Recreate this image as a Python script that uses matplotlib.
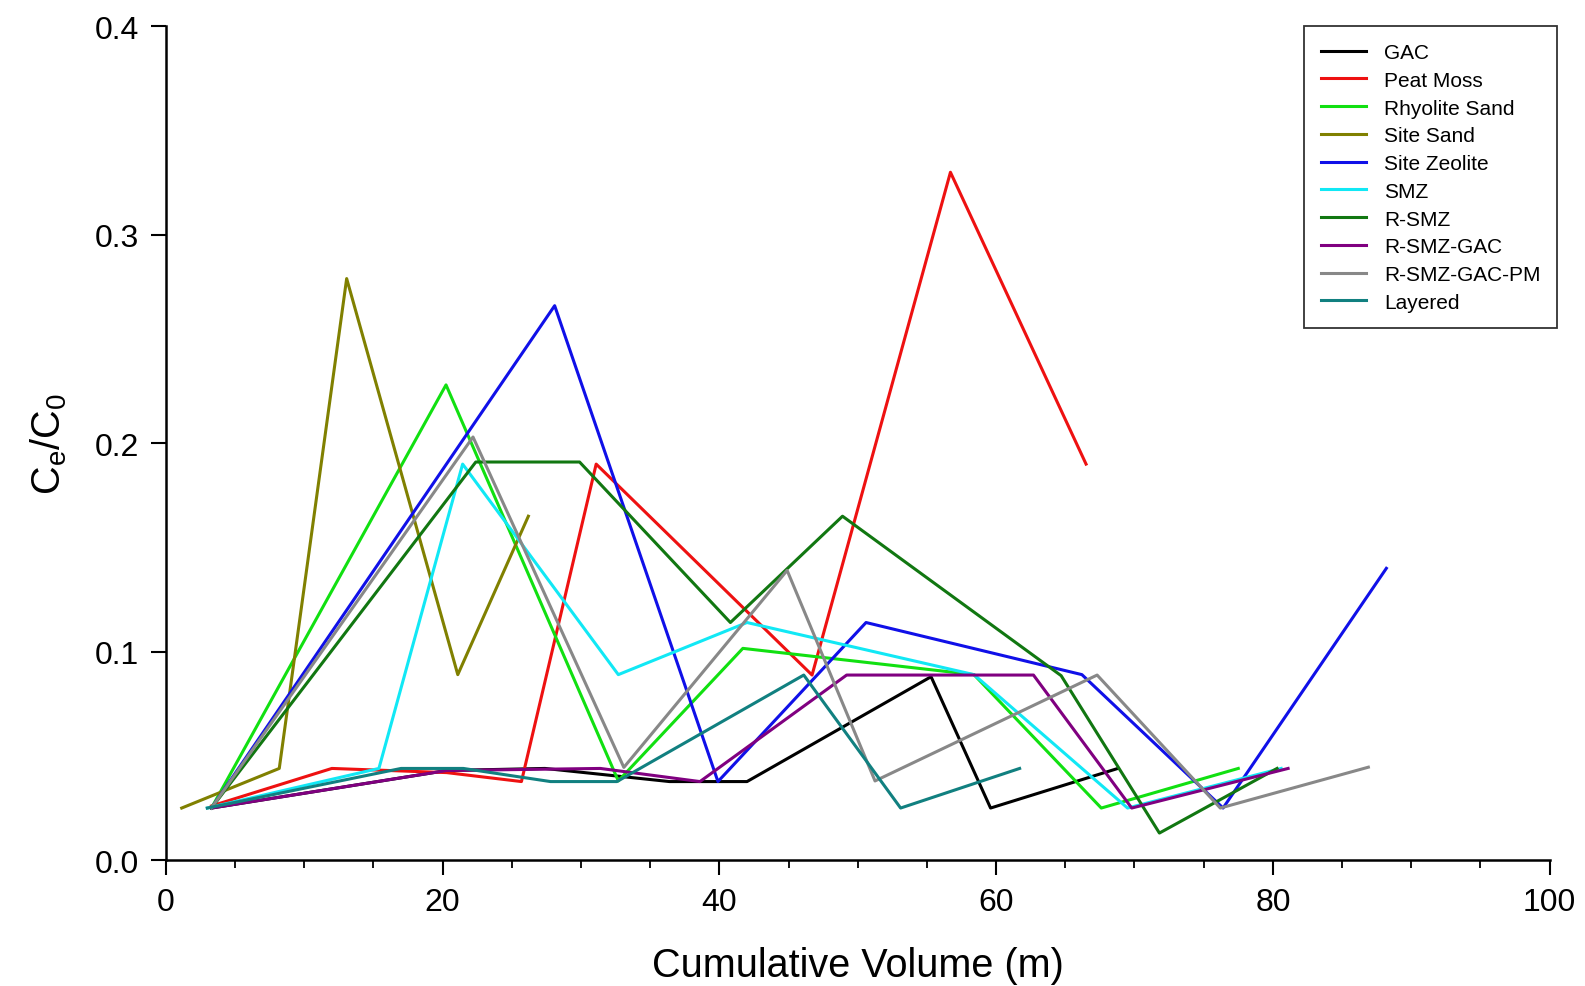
import matplotlib
matplotlib.use("Agg")
import matplotlib.pyplot as plt
from matplotlib.ticker import MultipleLocator, FormatStrFormatter

plt.rcParams['font.family'] = ['Liberation Sans', 'DejaVu Sans']

# ---------------- data ----------------
gac_x = [3.3, 20.3, 27.4, 36.4, 42.0, 55.3, 59.6, 68.8]
gac_y = [0.025, 0.043, 0.044, 0.0377, 0.0377, 0.088, 0.025, 0.044]

peat_x = [3.3, 12.0, 20.3, 25.7, 31.1, 46.7, 56.7, 66.5]
peat_y = [0.026, 0.044, 0.042, 0.0377, 0.190, 0.0888, 0.330, 0.190]

rhyo_x = [3.3, 20.25, 32.7, 41.7, 58.4, 67.6, 77.5]
rhyo_y = [0.025, 0.228, 0.038, 0.1016, 0.089, 0.025, 0.044]

sitesand_x = [1.15, 8.2, 13.07, 21.1, 26.2]
sitesand_y = [0.025, 0.044, 0.279, 0.089, 0.165]

zeol_x = [3.3, 28.1, 39.9, 50.6, 66.2, 76.4, 88.2]
zeol_y = [0.025, 0.266, 0.0377, 0.114, 0.089, 0.025, 0.140]

smz_x = [3.0, 15.4, 21.45, 32.7, 42.0, 58.4, 69.5, 80.6]
smz_y = [0.025, 0.044, 0.190, 0.089, 0.114, 0.089, 0.025, 0.044]

rsmz_x = [3.3, 22.4, 29.9, 40.8, 48.9, 64.7, 71.8, 80.3]
rsmz_y = [0.025, 0.191, 0.191, 0.114, 0.165, 0.0885, 0.013, 0.044]

rsmzgac_x = [3.3, 20.3, 31.4, 38.6, 49.2, 62.7, 69.8, 81.1]
rsmzgac_y = [0.025, 0.043, 0.044, 0.0377, 0.0888, 0.0888, 0.025, 0.044]

rsmzgacpm_x = [3.3, 22.2, 33.1, 44.9, 51.25, 67.3, 76.2, 86.9]
rsmzgacpm_y = [0.025, 0.203, 0.0445, 0.139, 0.038, 0.0888, 0.025, 0.0446]

layered_x = [3.0, 17.0, 21.5, 27.8, 32.6, 46.1, 53.1, 61.7]
layered_y = [0.025, 0.044, 0.044, 0.0377, 0.0377, 0.0888, 0.025, 0.044]

labels = ["GAC", "Peat Moss", "Rhyolite Sand", "Site Sand", "Site Zeolite",
          "SMZ", "R-SMZ", "R-SMZ-GAC", "R-SMZ-GAC-PM", "Layered"]
colors = ["#000000", "#ee1111", "#11e011", "#808000", "#1010e8",
          "#11e8f5", "#117711", "#800080", "#888888", "#118080"]
xs = [gac_x, peat_x, rhyo_x, sitesand_x, zeol_x, smz_x, rsmz_x, rsmzgac_x, rsmzgacpm_x, layered_x]
ys = [gac_y, peat_y, rhyo_y, sitesand_y, zeol_y, smz_y, rsmz_y, rsmzgac_y, rsmzgacpm_y, layered_y]

# ---------------- figure ----------------
fig = plt.figure(figsize=(15.85, 9.87), dpi=100)
ax = fig.add_axes([0.1046, 0.1275, 0.8731, 0.8448])

for x, y, c, lab in zip(xs, ys, colors, labels):
    ax.plot(x, y, color=c, lw=2.2, label=lab)

ax.set_xlim(0, 100)
ax.set_ylim(0, 0.4)
ax.xaxis.set_major_locator(MultipleLocator(20))
ax.xaxis.set_minor_locator(MultipleLocator(5))
ax.yaxis.set_major_locator(MultipleLocator(0.1))
ax.yaxis.set_major_formatter(FormatStrFormatter('%.1f'))

for s in ['top', 'right']:
    ax.spines[s].set_visible(False)
for s in ['left', 'bottom']:
    ax.spines[s].set_linewidth(1.8)

ax.tick_params(axis='both', which='major', direction='out', length=11, width=1.5,
               labelsize=23, pad=8)
ax.tick_params(axis='x', which='minor', direction='out', length=6, width=1.3)

ax.set_xlabel("Cumulative Volume (m)", fontsize=28.5, labelpad=21)
ax.set_ylabel(r"$\mathregular{C_e/C_0}$", fontsize=28.5, labelpad=19)

leg = ax.legend(loc='upper right', bbox_to_anchor=(0.9823, 0.9723),
                bbox_transform=fig.transFigure, fontsize=15, frameon=True,
                fancybox=False, edgecolor='black', handlelength=2.2,
                handletextpad=0.83, labelspacing=0.42, borderpad=0.8,
                borderaxespad=0)
leg.get_frame().set_linewidth(1.3)

fig.savefig("out.png", dpi=100)
